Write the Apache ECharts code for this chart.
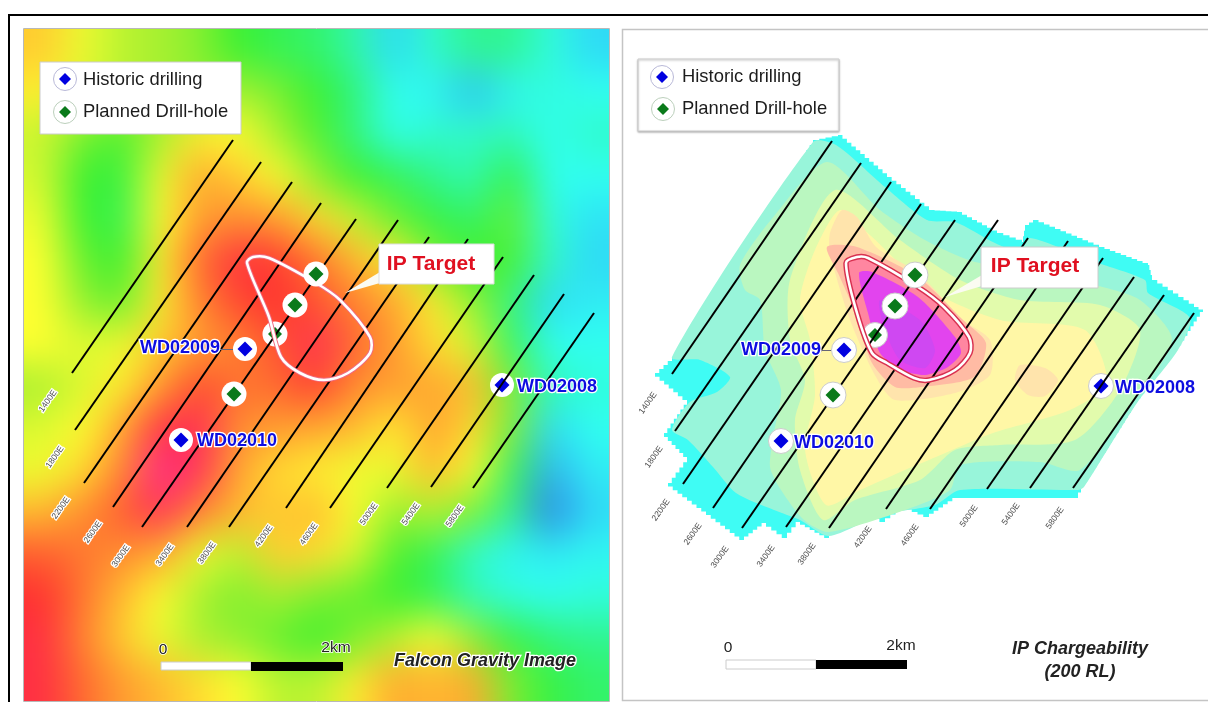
<!DOCTYPE html>
<html><head><meta charset="utf-8">
<style>
html,body{margin:0;padding:0;background:#fff;overflow:hidden}
#main{position:absolute;left:0;top:0;width:1208px;height:702px}
#clip{position:absolute;left:24px;top:29px;width:585px;height:672px;overflow:hidden}
#gravity{position:absolute;left:-78px;top:-84px;width:741px;height:840px;filter:blur(20px)}
</style>
<script src="https://cdn.jsdelivr.net/npm/echarts@6/dist/echarts.min.js"></script>
</head><body>
<div id="clip"><div id="gravity"></div></div>
<div id="main"></div>
<script>
// Falcon gravity image: readings on a 15 x 16 sample grid (0 low .. 100 high), north row first
const gravityRows = [
 [66,58,52,50,47,40,36,34,27,12,24,30,30,22,12],
 [62,56,52,50,48,50,46,40,32,20,18,8,18,22,20],
 [54,46,42,50,62,60,50,42,32,20,24,24,26,20,24],
 [55,40,38,58,70,66,60,48,40,36,30,26,38,20,20],
 [58,40,36,60,72,74,72,64,54,44,38,34,44,22,14],
 [60,44,40,62,80,92,88,78,68,62,46,40,42,24,12],
 [60,48,44,62,76,86,90,84,76,70,62,48,32,12,16],
 [60,56,58,66,72,76,84,94,80,72,64,56,36,20,20],
 [50,56,62,72,86,78,80,88,74,72,70,68,46,26,22],
 [56,60,70,92,94,74,72,70,68,62,72,64,46,12,20],
 [58,64,76,100,94,70,64,62,58,58,68,60,36,6,16],
 [68,74,82,94,76,68,66,68,60,48,52,46,30,0,12],
 [82,78,74,70,58,52,66,64,56,42,36,24,18,16,18],
 [90,78,68,60,50,46,50,46,44,40,36,26,22,20,22],
 [92,76,66,58,50,48,44,40,46,52,60,48,38,32,30],
 [92,80,72,68,64,60,52,52,62,70,68,70,46,38,34]
];
const gravityColors = ['#2f7fe6','#2fd0f8','#30fff0','#30f590','#38f030','#a8f030','#ffff30','#ffa830','#ff6a30','#ff3030','#ff2d90'];

// Survey lines (north end, south end)
const linesLeft = [[233,140,72,373],[261,162,75,430],[292,182,84,483],[321,203,113,507],[356,219,142,527],[398,220,187,527],[429,237,229,527],[468,239,286,508],[503,257,330,508],[534,275,387,488],[564,294,431,487],[594,313,473,488]];
const linesRight = [[832,141,672,374],[861,163,675,431],[891,182,683,484],[921,204,713,508],[955,220,742,528],[998,220,786,527],[1028,238,829,528],[1068,241,886,509],[1103,258,930,509],[1134,277,987,489],[1164,295,1030,488],[1194,313,1073,488]];
const lineNames = ['1400E','1800E','2200E','2600E','3000E','3400E','3800E','4200E','4600E','5000E','5400E','5800E'];
const lineLabelsLeft = [[48,401],[55,457],[61,508],[93,532],[121,556],[165,555],[207,553],[264,536],[309,534],[369,514],[411,514],[455,516]];
const lineLabelsRight = [[648,403],[654,457],[661,510],[693,534],[720,557],[766,556],[807,554],[863,537],[910,535],[969,516],[1011,514],[1055,518]];

// Drill holes
const plannedLeft = [[316,274],[295,305],[234,394]];
const plannedLeftUnder = [[275,334]];
const plannedRight = [[915,275],[895,306],[833,395]];
const plannedRightUnder = [[875,335]];
const historicLeft = [[245,349],[181,440]];
const historicLeftUnder = [[502,385]];
const historicRight = [[844,350],[781,441]];
const historicRightUnder = [[1101,386]];
const holeNames = ['WD02009','WD02010','WD02008'];
const holeLabelsLeft = [[180,348],[237,441],[557,387]];
const holeLabelsRight = [[781,350],[834,443],[1155,388]];

// IP target outline
const targetLeft = [[247,263],[253,257],[269,258],[316,283],[340,300],[370,337],[370,353],[348,373],[324,380],[300,373],[281,357],[269,317]];
const targetRight = [[846,263],[857,257],[868,258],[918,287],[944,307],[969,337],[970,353],[955,370],[929,380],[914,378],[887,363],[872,353],[857,313]];

// IP chargeability contour bands, outermost first
const surveyEdge = [[813,140],[838,135],[887,177],[929,210],[957,212],[997,233],[1022,242],[1025,225],[1033,220],[1099,247],[1148,265],[1152,280],[1194,307],[1203,312],[1178,350],[1137,403],[1084,487],[1078,498],[957,498],[929,517],[906,507],[885,522],[857,507],[829,538],[800,522],[787,538],[766,523],[744,540],[668,483],[687,457],[664,433],[687,400],[655,373],[672,357]];
const bandAqua = [[813,142],[836,145],[885,187],[927,220],[955,222],[995,243],[1020,252],[1030,238],[1095,262],[1145,280],[1148,293],[1190,318],[1178,350],[1137,403],[1084,487],[1078,490],[960,490],[935,505],[880,515],[829,536],[800,520],[774,510],[736,493],[713,467],[688,440],[672,430],[690,402],[717,392],[730,377],[700,360],[672,357]];
const bandLightGreen = [[827,162],[880,210],[925,240],[975,262],[1030,268],[1095,285],[1140,300],[1172,340],[1132,403],[1080,470],[1040,462],[960,465],[950,490],[905,510],[829,532],[804,520],[781,490],[770,467],[774,433],[781,390],[765,350],[760,300],[745,290],[740,265],[775,215]];
const bandPaleYellow = [[835,190],[900,240],[960,280],[1020,300],[1100,305],[1140,330],[1120,390],[1075,440],[1000,445],[955,450],[920,480],[855,500],[823,520],[800,470],[795,420],[805,380],[790,340],[790,280]];
const bandYellow = [[840,210],[870,235],[930,290],[1000,320],[1085,330],[1107,383],[1070,410],[993,433],[936,457],[905,470],[860,490],[826,505],[805,450],[815,395],[810,340],[800,300],[815,250]];
const bandPeach = [[842,210],[857,217],[876,247],[918,273],[963,320],[990,340],[990,375],[955,393],[895,400],[876,377],[850,320],[830,253],[830,233]];
const bandPeachEast = [[1020,365],[1045,368],[1058,380],[1045,396],[1028,395],[1015,380]];
const bandSalmon = [[827,247],[857,247],[918,277],[963,320],[986,343],[974,377],[921,387],[895,387],[872,363],[853,307],[838,273]];
const bandPink = targetRight;
const bandMagenta = [[859,273],[872,272],[918,297],[955,337],[961,353],[948,367],[925,375],[902,370],[880,353],[868,313]];
const bandViolet = [[880,300],[920,320],[935,350],[925,368],[900,360],[885,330]];
const bands = [surveyEdge,bandAqua,bandLightGreen,bandPaleYellow,bandYellow,bandPeach,bandPeachEast,bandSalmon,bandPink,bandMagenta,bandViolet];
const bandColors = ['#3ffcf4','#98f5da','#baf7c0','#e2fbac','#fff7a6','#ffe4ac','#ffe4ac','#ffbba4','#ff86a0','#e244ee','#cf48f2'];

// ----- gravity heatmap: edge rows/columns repeated so the soft edge stays outside the panel
const PAD = 2, nCols = gravityRows[0].length, nRows = gravityRows.length;
const heat = [];
for (let r = -PAD; r < nRows + PAD; r++) for (let c = -PAD; c < nCols + PAD; c++) {
  const rr = Math.min(nRows - 1, Math.max(0, r)), cc = Math.min(nCols - 1, Math.max(0, c));
  heat.push([c + PAD, r + PAD, gravityRows[rr][cc]]);
}
const idx = n => Array.from({length:n}, (_, i) => i);
echarts.init(document.getElementById('gravity'), null, {renderer:'canvas'}).setOption({
  animation:false,
  grid:{left:0,right:0,top:0,bottom:0},
  xAxis:{type:'category',data:idx(nCols+2*PAD),show:false},
  yAxis:{type:'category',data:idx(nRows+2*PAD),inverse:true,show:false},
  visualMap:{show:false,min:0,max:100,dimension:2,inRange:{color:gravityColors}},
  series:[{type:'heatmap',data:heat,progressive:0,itemStyle:{borderWidth:0}}]
});

// ----- overlay
const F = 'Liberation Sans, Arial, sans-serif';
function stairs(pts, step) {
  const out = [];
  pts.forEach((p, i) => {
    const q = pts[(i + 1) % pts.length];
    const n = Math.max(1, Math.round(Math.hypot(q[0]-p[0], q[1]-p[1]) / step));
    for (let k = 0; k < n; k++) {
      const ax = p[0]+(q[0]-p[0])*k/n, ay = p[1]+(q[1]-p[1])*k/n;
      const bx = p[0]+(q[0]-p[0])*(k+1)/n;
      out.push([ax,ay],[bx,ay]);
    }
  });
  return out;
}
function polySeries(name, polys, z) {
  return {type:'custom',name,coordinateSystem:'cartesian2d',z,silent:true,clip:false,
    encode:{x:0,y:1},
    data:polys.map(p => p.points[0]),
    renderItem:(params, api) => {
      const p = polys[params.dataIndex];
      let pts = p.points.map(v => api.coord(v));
      if (p.jag) pts = stairs(pts, p.jag);
      return {type:'polygon',shape:{points:pts,smooth:p.smooth||0},
        style:{fill:p.fill||'none',stroke:p.stroke||'none',lineWidth:p.width||0,shadowBlur:p.shadow?2:0,shadowColor:'rgba(0,0,0,0.3)',shadowOffsetY:p.shadow?1:0}};
    }};
}
const rect = (x0,y0,x1,y1) => [[x0,y0],[x1,y0],[x1,y1],[x0,y1]];
// one label layer; white halo (if any) is a separate layer below the crisp text
function textLayer(name, pts, texts, label, z) {
  return {type:'scatter',name,z,symbolSize:0.01,silent:true,clip:false,itemStyle:{opacity:1,color:'transparent'},
    data:pts.map((p,i)=>({value:p,label:{formatter:texts[i]}})),
    label:Object.assign({show:true,position:'inside',align:'center',verticalAlign:'middle',fontFamily:F,textBorderWidth:0,textBorderColor:'transparent',opacity:1},label)};
}
function textSeries(name, pts, texts, label, z, halo) {
  const out = [];
  if (halo) out.push(textLayer(name+' halo',pts,texts,Object.assign({},label,{color:'#fff',textBorderColor:'#fff',textBorderWidth:halo}),z));
  out.push(textLayer(name,pts,texts,label,z+0.5));
  return out;
}
function dots(name, pts, size, color, z, extra) {
  return {type:'scatter',name,z,symbol:'circle',symbolSize:size,silent:true,clip:false,data:pts,
    itemStyle:Object.assign({color,opacity:1},extra||{})};
}
function diamonds(name, pts, size, color, z) {
  return {type:'scatter',name,z,symbol:'diamond',symbolSize:size,silent:true,clip:false,data:pts,itemStyle:{color,opacity:1}};
}
const survey = (name, ls) => ({type:'lines',name,coordinateSystem:'cartesian2d',z:5,silent:true,
  data:ls.map(l=>({coords:[[l[0],l[1]],[l[2],l[3]]]})),lineStyle:{color:'#000',width:2,opacity:1,curveness:0}});
const lineLabelStyle = {fontSize:8.5,color:'#4a4a4a',rotate:55};
const holeStyle = {fontSize:18,fontWeight:'bold',color:'#0d0de0'};
const legendStyle = {fontSize:18.4,color:'#1c1c1c',align:'left'};
const planned='#0a7a1a', historic='#0000e0';
const ring={borderColor:'#ccc',borderWidth:1};

const series = [
  polySeries('frames',[
    {points:rect(9,15,1300,800),stroke:'#000',width:2},
    {points:rect(23.5,28.5,609.5,701.5),stroke:'#b8b8b8',width:1},
    {points:rect(622.5,29.5,1300,700.5),stroke:'#c4c4c4',width:1.5}
  ],1),
  polySeries('IP chargeability',bands.map((b,i)=>({points:b,fill:bandColors[i],jag:i===0?6:0,smooth:i===0?0:0.25})),2),
  dots('planned under L',plannedLeftUnder,25,'#fff',3),
  diamonds('planned under L d',plannedLeftUnder,14,planned,3),
  dots('planned under R',plannedRightUnder,25,'#fff',3,ring),
  diamonds('planned under R d',plannedRightUnder,14,planned,3),
  dots('historic under L',historicLeftUnder,24,'#fff',3),
  diamonds('historic under L d',historicLeftUnder,15,historic,3),
  dots('historic under R',historicRightUnder,25,'#fff',3,ring),
  diamonds('historic under R d',historicRightUnder,15,historic,3),
  survey('survey lines left',linesLeft),
  survey('survey lines right',linesRight),
  polySeries('target halo',[{points:targetLeft,stroke:'#f06a80',width:4.5,smooth:0.3},{points:targetRight,stroke:'#d83050',width:5.5,smooth:0.3}],6),
  polySeries('target',[{points:targetLeft,stroke:'#fff',width:2.6,smooth:0.3},{points:targetRight,stroke:'#fff',width:2.6,smooth:0.3}],7),
  polySeries('callouts',[
    {points:[[345,293],[380,272],[380,283]],fill:'#fbfbf2'},
    {points:[[945,297],[982,275],[982,286]],fill:'#fbfbf2'},
    {points:rect(379,244,494,284),fill:'#fff',stroke:'#ddd',width:1},
    {points:rect(981,247,1098,288),fill:'#fff',stroke:'#ccc',width:1},
    {points:rect(40,62,241,134),fill:'#fff',stroke:'#ccc',width:1},
    {points:rect(638,59,839,131),fill:'#fff',stroke:'#ccc',width:1,shadow:true},
    {points:rect(161,662,251,670),fill:'#fff',stroke:'#ccc',width:1},
    {points:rect(251,662,343,671),fill:'#000'},
    {points:rect(726,660,816,669),fill:'#fff',stroke:'#ccc',width:1},
    {points:rect(816,660,907,669),fill:'#000'}
  ],8),
  {type:'lines',name:'leaders',coordinateSystem:'cartesian2d',z:8,silent:true,
    data:[{coords:[[220,349],[236,349]]},{coords:[[821,350],[836,350]]}],lineStyle:{color:'#667',width:1,opacity:1,curveness:0}},
  dots('planned L',plannedLeft,25,'#fff',9),
  diamonds('planned L d',plannedLeft,15,planned,10),
  dots('planned R',plannedRight,26,'#fff',9,ring),
  diamonds('planned R d',plannedRight,15,planned,10),
  dots('historic L',historicLeft,24,'#fff',9),
  diamonds('historic L d',historicLeft,15,historic,10),
  dots('historic R',historicRight,25,'#fff',9,ring),
  diamonds('historic R d',historicRight,15,historic,10),
  dots('legend h',[[65,79],[662,77]],23,'#fff',9,{borderColor:'#b9b9d8',borderWidth:1}),
  diamonds('legend h d',[[65,79],[662,77]],12,historic,10),
  dots('legend p',[[65,112],[663,109]],23,'#fff',9,{borderColor:'#bcd0bc',borderWidth:1}),
  diamonds('legend p d',[[65,112],[663,109]],12,planned,10),
  ...textSeries('line names L',lineLabelsLeft,lineNames,lineLabelStyle,6,2.5),
  ...textSeries('line names R',lineLabelsRight,lineNames,lineLabelStyle,6),
  ...textSeries('holes L',holeLabelsLeft,holeNames,holeStyle,11,2.5),
  ...textSeries('holes R',holeLabelsRight,holeNames,holeStyle,11,2.5),
  ...textSeries('legend',[[83,80],[83,112],[682,77],[682,109]],['Historic drilling','Planned Drill-hole','Historic drilling','Planned Drill-hole'],legendStyle,11),
  ...textSeries('target names',[[431,264],[1035,266]],['IP Target','IP Target'],{fontSize:21,fontWeight:'bold',color:'#e01020'},11),
  ...textSeries('scale',[[163,650],[336,648],[728,648],[901,646]],['0','2km','0','2km'],{fontSize:15.5,color:'#222'},11,1.5),
  ...textSeries('titles',[[485,661],[1080,649],[1080,672]],['Falcon Gravity Image','IP Chargeability','(200 RL)'],{fontSize:18,fontWeight:'bold',fontStyle:'italic',color:'#222'},11,2.5)
];
echarts.init(document.getElementById('main'), null, {renderer:'canvas'}).setOption({
  animation:false,
  grid:{left:0,top:0,width:1208,height:702},
  xAxis:{type:'value',min:0,max:1208,show:false},
  yAxis:{type:'value',min:0,max:702,inverse:true,show:false},
  series
});
</script>
</body></html>
